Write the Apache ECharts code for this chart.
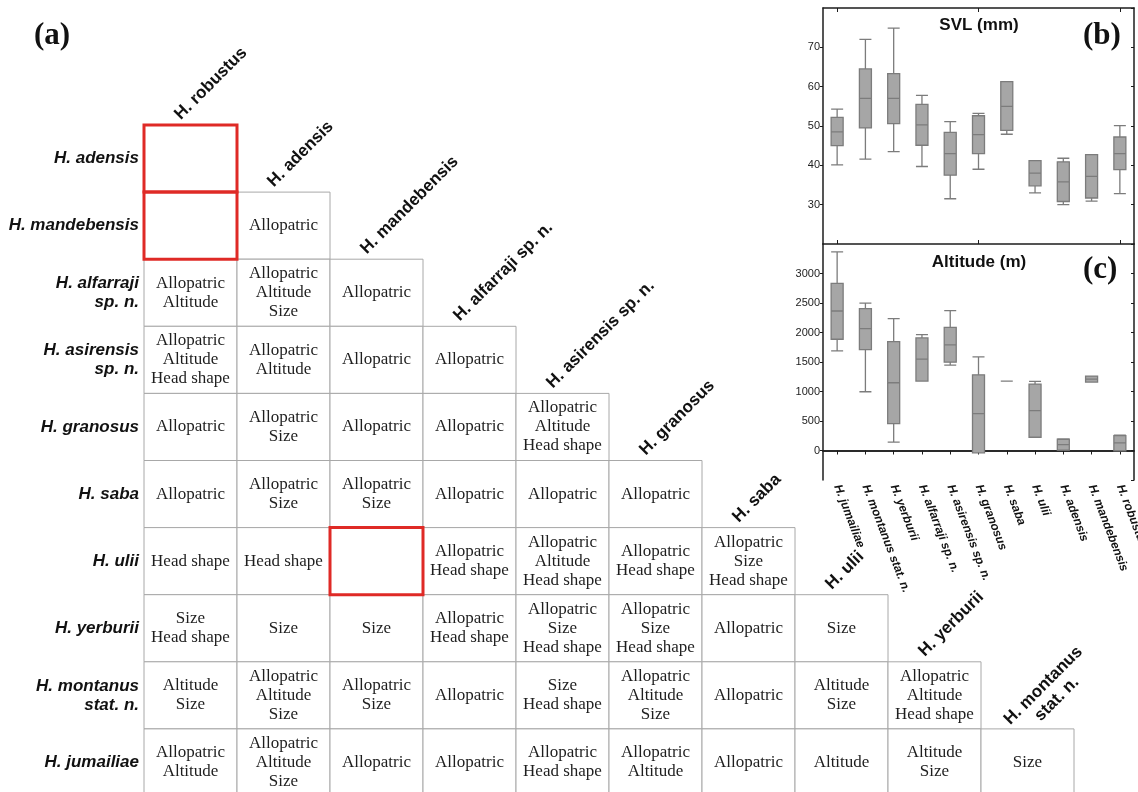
<!DOCTYPE html>
<html>
<head>
<meta charset="utf-8">
<script src="https://cdn.jsdelivr.net/npm/echarts@6/dist/echarts.min.js"></script>
<style>
  html, body { margin: 0; padding: 0; background: #fff; }
  #chart { width: 1138px; height: 792px; }
</style>
</head>
<body>
<div id="chart"></div>
<script>
// ---- (a) pairwise comparison table ----
const rowSpecies = ['H. adensis', 'H. mandebensis', 'H. alfarraji\nsp. n.', 'H. asirensis\nsp. n.', 'H. granosus',
  'H. saba', 'H. ulii', 'H. yerburii', 'H. montanus\nstat. n.', 'H. jumailiae'];
const colSpecies = ['H. robustus', 'H. adensis', 'H. mandebensis', 'H. alfarraji sp. n.', 'H. asirensis sp. n.',
  'H. granosus', 'H. saba', 'H. ulii', 'H. yerburii', 'H. montanus\nstat. n.'];

// factors separating each pair; row i holds columns 0..i
const pairFactors = [
  [''],
  ['', 'Allopatric'],
  ['Allopatric\nAltitude', 'Allopatric\nAltitude\nSize', 'Allopatric'],
  ['Allopatric\nAltitude\nHead shape', 'Allopatric\nAltitude', 'Allopatric', 'Allopatric'],
  ['Allopatric', 'Allopatric\nSize', 'Allopatric', 'Allopatric', 'Allopatric\nAltitude\nHead shape'],
  ['Allopatric', 'Allopatric\nSize', 'Allopatric\nSize', 'Allopatric', 'Allopatric', 'Allopatric'],
  ['Head shape', 'Head shape', '', 'Allopatric\nHead shape', 'Allopatric\nAltitude\nHead shape', 'Allopatric\nHead shape', 'Allopatric\nSize\nHead shape'],
  ['Size\nHead shape', 'Size', 'Size', 'Allopatric\nHead shape', 'Allopatric\nSize\nHead shape', 'Allopatric\nSize\nHead shape', 'Allopatric', 'Size'],
  ['Altitude\nSize', 'Allopatric\nAltitude\nSize', 'Allopatric\nSize', 'Allopatric', 'Size\nHead shape', 'Allopatric\nAltitude\nSize', 'Allopatric', 'Altitude\nSize', 'Allopatric\nAltitude\nHead shape'],
  ['Allopatric\nAltitude', 'Allopatric\nAltitude\nSize', 'Allopatric', 'Allopatric', 'Allopatric\nHead shape', 'Allopatric\nAltitude', 'Allopatric', 'Altitude', 'Altitude\nSize', 'Size']
];

// pairs without any separating factor: [row, col]
const unresolvedPairs = [[0, 0], [1, 0], [6, 2]];

// ---- (b), (c) box plots: [min, Q1, median, Q3, max] ----
const boxSpecies = ['H. jumailiae', 'H. montanus stat. n.', 'H. yerburii', 'H. alfarraji sp. n.', 'H. asirensis sp. n.',
  'H. granosus', 'H. saba', 'H. ulii', 'H. adensis', 'H. mandebensis', 'H. robustus'];
const svl = [
  [40.1, 45.0, 48.5, 52.2, 54.3],
  [41.6, 49.5, 57.0, 64.5, 72.0],
  [43.5, 50.6, 57.0, 63.3, 74.9],
  [39.7, 45.1, 50.3, 55.5, 57.8],
  [31.5, 37.5, 43.0, 48.4, 51.1],
  [39.0, 43.0, 47.8, 52.6, 53.2],
  [47.9, 48.9, 55.0, 61.3, 61.3],
  [33.0, 34.8, 38.0, 41.2, 41.2],
  [30.0, 30.8, 35.8, 40.9, 41.8],
  [30.9, 31.7, 37.2, 42.7, 42.7],
  [32.8, 38.9, 43.0, 47.2, 50.1]
];
const altitude = [
  [1689, 1886, 2364, 2831, 3366],
  [996, 1711, 2066, 2404, 2499],
  [141, 456, 1148, 1846, 2235],
  [1176, 1176, 1548, 1908, 1964],
  [1447, 1497, 1790, 2088, 2370],
  [-39, -39, 625, 1283, 1587],
  [1176, 1176, 1176, 1176, 1176],
  [225, 225, 675, 1126, 1171],
  [6, 6, 101, 191, 197],
  [1160, 1160, 1210, 1261, 1261],
  [-6, -6, 129, 253, 259]
];

const SANS = '"Liberation Sans", Arial, sans-serif';
const SERIF = '"Liberation Serif", "Times New Roman", serif';
const FRAME = '#1c1c1c';

// flatten the triangle into cells
const tableCells = [];
pairFactors.forEach((row, i) => {
  row.forEach((text, j) => {
    const red = unresolvedPairs.some(p => p[0] === i && p[1] === j);
    tableCells.push({ value: [j, i], text: text, red: red });
  });
});

const chart = echarts.init(document.getElementById('chart'), null, { renderer: 'canvas' });

function panelAxes(gridIndex, cfg) {
  const xBottom = {
    type: 'category', gridIndex: gridIndex, data: boxSpecies, position: 'bottom',
    axisLine: { lineStyle: { color: FRAME, width: 1.5 } },
    axisTick: { show: true, inside: cfg.bottomInside, length: 4, alignWithLabel: true, lineStyle: { color: FRAME } },
    axisLabel: cfg.bottomLabels ? {
      show: true, interval: 0, rotate: -69, margin: 5, fontFamily: SANS, fontSize: 12,
      fontWeight: 'bold', fontStyle: 'italic', color: '#111'
    } : { show: false },
    splitLine: { show: false }
  };
  const xTop = {
    type: 'category', gridIndex: gridIndex, data: boxSpecies, position: 'top',
    axisLine: { lineStyle: { color: FRAME, width: 1.5 } },
    axisTick: { show: cfg.topTicks, inside: true, length: 4, alignWithLabel: true, lineStyle: { color: FRAME } },
    axisLabel: { show: false },
    splitLine: { show: false }
  };
  const yLeft = {
    type: 'value', gridIndex: gridIndex, position: 'left', min: cfg.min, max: cfg.max, interval: cfg.interval,
    axisLine: { show: true, lineStyle: { color: FRAME, width: 1.5 } },
    axisTick: { show: true, inside: false, length: 3, lineStyle: { color: FRAME } },
    axisLabel: {
      show: true, showMinLabel: false, showMaxLabel: false, margin: 3, fontFamily: SANS, fontSize: 11, color: '#222',
      formatter: v => String(v)
    },
    splitLine: { show: false }
  };
  const yRight = {
    type: 'value', gridIndex: gridIndex, position: 'right', min: cfg.min, max: cfg.max, interval: cfg.interval,
    axisLine: { show: true, lineStyle: { color: FRAME, width: 1.5 } },
    axisTick: { show: true, inside: true, length: 3, lineStyle: { color: FRAME } },
    axisLabel: { show: false },
    splitLine: { show: false }
  };
  return { x: [xBottom, xTop], y: [yLeft, yRight] };
}

const pb = panelAxes(1, { bottomInside: true, bottomLabels: false, topTicks: true, min: 20, max: 80, interval: 10 });
const pc = panelAxes(2, { bottomInside: false, bottomLabels: true, topTicks: false, min: -500, max: 3500, interval: 500 });

const boxStyle = { color: '#a6a6a6', borderColor: '#7c7c7c', borderWidth: 1.3 };

const option = {
  backgroundColor: '#ffffff',
  animation: false,
  grid: [
    { left: 144, top: 125, width: 930, height: 671, outerBoundsMode: 'none', containLabel: false },
    { left: 823, top: 8, width: 311, height: 236, outerBoundsMode: 'none', containLabel: false },
    { left: 823, top: 244, width: 311, height: 236, outerBoundsMode: 'none', containLabel: false }
  ],
  xAxis: [
    {
      type: 'category', gridIndex: 0, data: colSpecies, show: false
    },
    pb.x[0], pb.x[1], pc.x[0], pc.x[1]
  ],
  yAxis: [
    {
      type: 'category', gridIndex: 0, data: rowSpecies, inverse: true,
      axisLine: { show: false }, axisTick: { show: false }, splitLine: { show: false },
      axisLabel: {
        show: true, interval: 0, margin: 5, align: 'right', fontFamily: SANS, fontSize: 17,
        fontWeight: 'bold', fontStyle: 'italic', color: '#111', lineHeight: 19
      }
    },
    pb.y[0], pb.y[1], pc.y[0], pc.y[1]
  ],
  graphic: [
    { type: 'text', left: 34, top: 20, style: { text: '(a)', font: 'bold 31px ' + SERIF, fill: '#111' } },
    { type: 'text', left: 1083, top: 20, style: { text: '(b)', font: 'bold 31px ' + SERIF, fill: '#111' } },
    { type: 'text', left: 1083, top: 254, style: { text: '(c)', font: 'bold 31px ' + SERIF, fill: '#111' } },
    { type: 'text', x: 979, y: 25, style: { text: 'SVL (mm)', font: 'bold 17px ' + SANS, fill: '#111', align: 'center', verticalAlign: 'middle' } },
    { type: 'text', x: 979, y: 262, style: { text: 'Altitude (m)', font: 'bold 17px ' + SANS, fill: '#111', align: 'center', verticalAlign: 'middle' } }
  ],
  series: [
    {
      // table cells
      type: 'custom', name: 'pairs', xAxisIndex: 0, yAxisIndex: 0, silent: true,
      data: tableCells.map(c => c.value),
      renderItem: function (params, api) {
        const cell = tableCells[params.dataIndex];
        const c = api.coord([api.value(0), api.value(1)]);
        const s = api.size([1, 1]);
        const children = [{
          type: 'rect',
          shape: { x: c[0] - s[0] / 2, y: c[1] - s[1] / 2, width: s[0], height: s[1] },
          style: { fill: '#fff', stroke: '#a8a8a8', lineWidth: 1 },
          z2: 1
        }];
        if (cell.red) {
          children.push({
            type: 'rect',
            shape: { x: c[0] - s[0] / 2, y: c[1] - s[1] / 2, width: s[0], height: s[1] },
            style: { fill: 'none', stroke: '#df2a26', lineWidth: 3 },
            z2: 20
          });
        }
        if (cell.text) {
          children.push({
            type: 'text', x: c[0], y: c[1], z2: 5,
            style: {
              text: cell.text, fontFamily: SERIF, fontSize: 17, lineHeight: 19,
              fill: '#1e1e1e', align: 'center', verticalAlign: 'middle'
            }
          });
        }
        return { type: 'group', children: children };
      }
    },
    {
      // diagonal column headings above each column's first cell
      type: 'custom', name: 'headers', xAxisIndex: 0, yAxisIndex: 0, silent: true,
      data: colSpecies.map((_, j) => [j, j]),
      renderItem: function (params, api) {
        const j = params.dataIndex;
        const c = api.coord([api.value(0), api.value(1)]);
        const s = api.size([1, 1]);
        const text = colSpecies[j];
        const multi = text.indexOf('\n') >= 0;
        return {
          type: 'text',
          x: c[0] - (multi ? 12 : 7),
          y: c[1] - s[1] / 2 - 2,
          rotation: Math.PI / 4,
          style: multi ? {
            text: text, x: 49, y: -19, fontFamily: SANS, fontSize: 17, fontWeight: 'bold',
            lineHeight: 19, fill: '#111', align: 'center', verticalAlign: 'top'
          } : {
            text: text, x: 0, y: 0, fontFamily: SANS, fontSize: 17, fontWeight: 'bold',
            fill: '#111', align: 'left', verticalAlign: 'bottom'
          }
        };
      }
    },
    {
      type: 'boxplot', name: 'SVL (mm)', xAxisIndex: 1, yAxisIndex: 1, silent: true,
      boxWidth: [12, 12], data: svl, itemStyle: boxStyle
    },
    {
      type: 'boxplot', name: 'Altitude (m)', xAxisIndex: 3, yAxisIndex: 3, silent: true,
      boxWidth: [12, 12], data: altitude, itemStyle: boxStyle
    }
  ]
};

chart.setOption(option);
</script>
</body>
</html>
